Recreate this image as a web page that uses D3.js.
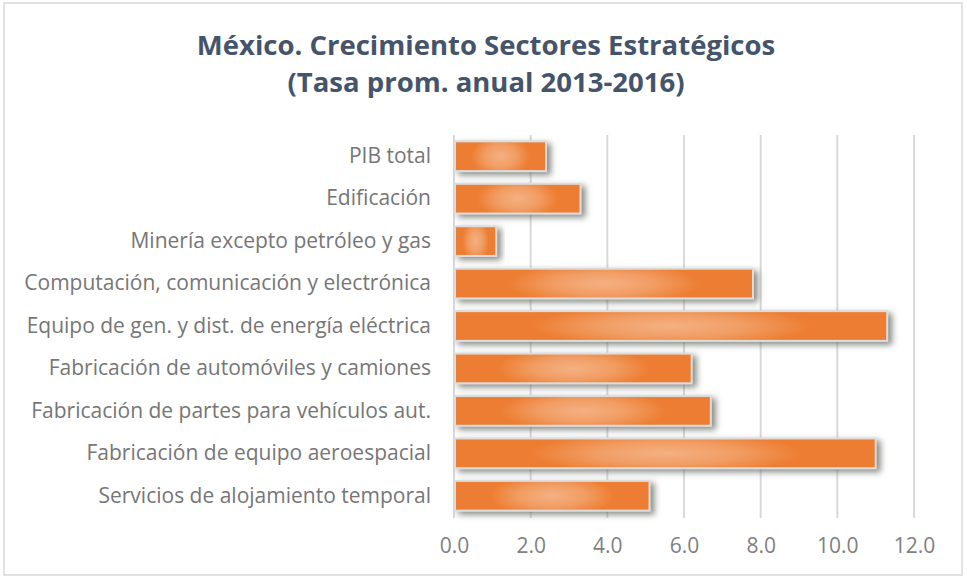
<!DOCTYPE html>
<html><head><meta charset="utf-8">
<script src="https://cdn.jsdelivr.net/npm/d3@7/dist/d3.min.js"></script>
<style>body{margin:0;background:#fff}</style>
</head><body>
<script>
const categories = [
  "PIB total",
  "Edificación",
  "Minería excepto petróleo y gas",
  "Computación, comunicación y electrónica",
  "Equipo de gen. y dist. de energía eléctrica",
  "Fabricación de automóviles y camiones",
  "Fabricación de partes para vehículos aut.",
  "Fabricación de equipo aeroespacial",
  "Servicios de alojamiento temporal"
];
const values = [2.4, 3.3, 1.1, 7.8, 11.3, 6.2, 6.7, 11.0, 5.1];
const tickValues = [0, 2, 4, 6, 8, 10, 12];
const titleLines = ["México. Crecimiento Sectores Estratégicos", "(Tasa prom. anual 2013-2016)"];

const W = 967, H = 578;
const svg = d3.select("body").append("svg").attr("width", W).attr("height", H);

const defs = svg.append("defs");
const grad = defs.append("radialGradient").attr("id", "barGrad")
  .attr("cx", 0.5).attr("cy", 0.5).attr("r", 0.5)
  .attr("gradientTransform", "translate(0.5,0.5) scale(1,2.2) translate(-0.5,-0.5)");
grad.append("stop").attr("offset", "0%").attr("stop-color", "#f4b183");
grad.append("stop").attr("offset", "35%").attr("stop-color", "#f19c62");
grad.append("stop").attr("offset", "65%").attr("stop-color", "#ed7d31");
grad.append("stop").attr("offset", "100%").attr("stop-color", "#ed7d31");
const flt = defs.append("filter").attr("id", "shadow")
  .attr("x", "-10%").attr("y", "-40%").attr("width", "130%").attr("height", "190%");
flt.append("feDropShadow").attr("dx", 4).attr("dy", 3).attr("stdDeviation", 3)
  .attr("flood-color", "#5f665d").attr("flood-opacity", 0.75);

// frame
svg.append("rect").attr("x", 4).attr("y", 3).attr("width", W - 9).attr("height", H - 6)
  .attr("fill", "#fff").attr("stroke", "#d9d9d9").attr("stroke-width", 1.5);

// title
svg.append("g").selectAll("text").data(titleLines).join("text")
  .attr("x", 486).attr("y", (d, i) => 55 + i * 37)
  .attr("text-anchor", "middle")
  .attr("font-family", "'Open Sans', sans-serif")
  .attr("font-weight", "bold").attr("font-size", 27.5)
  .attr("fill", "#44546a").text(d => d);

const m = {left: 454, right: 914, top: 135, bottom: 517};
const x = d3.scaleLinear().domain([0, 12]).range([m.left, m.right]);
const y = d3.scaleBand().domain(categories).range([m.top, m.bottom]).paddingInner(0.3).paddingOuter(0.15);

// gridlines
svg.append("g").selectAll("line").data(tickValues).join("line")
  .attr("x1", d => x(d)).attr("x2", d => x(d))
  .attr("y1", m.top).attr("y2", m.bottom + 1)
  .attr("stroke", "#d9d9d9").attr("stroke-width", 2);

// x axis labels
const xAxis = d3.axisBottom(x).tickValues(tickValues).tickFormat(d3.format(".1f")).tickSize(0).tickPadding(0);
const gx = svg.append("g").attr("transform", `translate(0,${m.bottom + 21})`).call(xAxis);
gx.select(".domain").remove();
gx.selectAll("text").attr("font-family", "'Open Sans', sans-serif").attr("font-size", 21).attr("fill", "#7f7f7f").attr("dy", "0.71em");

// y axis labels
const yAxis = d3.axisLeft(y).tickSize(0).tickPadding(23);
const gy = svg.append("g").attr("transform", `translate(${m.left},0)`).call(yAxis);
gy.select(".domain").remove();
gy.selectAll("text").attr("font-family", "'Open Sans', sans-serif").attr("font-size", 21).attr("fill", "#767676");

// bars
svg.append("g").selectAll("rect").data(values).join("rect")
  .attr("x", x(0) + 1)
  .attr("y", (d, i) => y(categories[i]))
  .attr("width", d => x(d) - x(0) - 1)
  .attr("height", y.bandwidth())
  .attr("fill", "url(#barGrad)")
  .attr("stroke", "#dcdcdc").attr("stroke-width", 2)
  .attr("filter", "url(#shadow)");
</script>
</body></html>
